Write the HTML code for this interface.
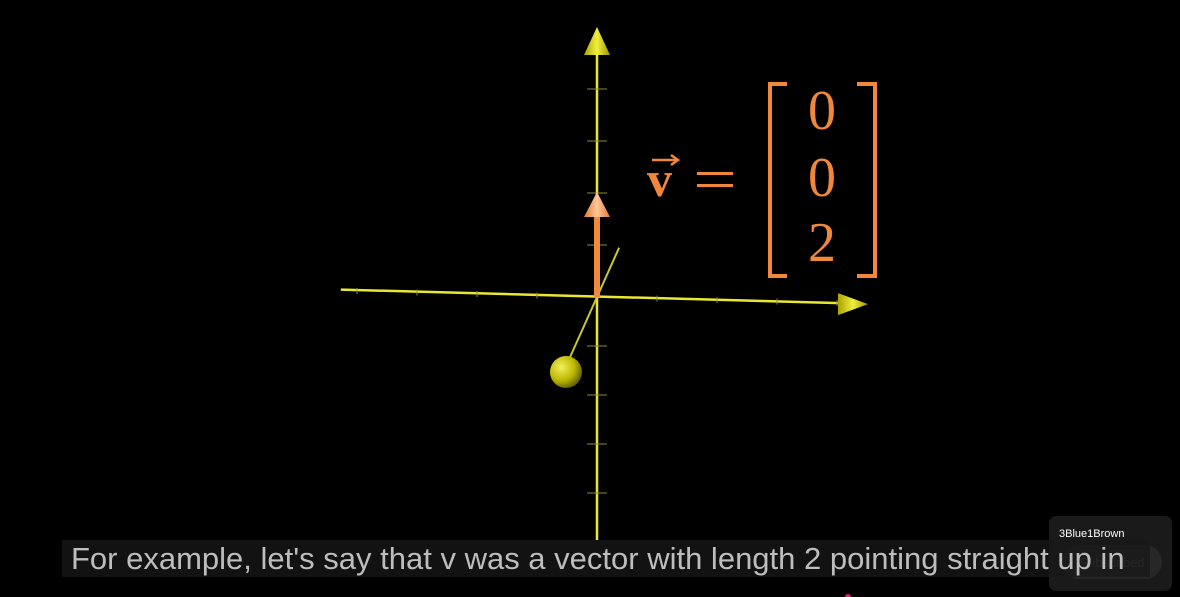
<!DOCTYPE html>
<html><head><meta charset="utf-8">
<style>
html,body{margin:0;padding:0;background:#000;width:1180px;height:597px;overflow:hidden;}
svg{display:block}
</style></head>
<body>
<svg id="scene" width="1180" height="597" viewBox="0 0 1180 597" xmlns="http://www.w3.org/2000/svg">
  <defs>
    <radialGradient id="sph" cx="0.35" cy="0.35" r="0.7">
      <stop offset="0" stop-color="#f2f060"/>
      <stop offset="0.6" stop-color="#bdb700"/>
      <stop offset="1" stop-color="#5f5c00"/>
    </radialGradient>
    <linearGradient id="cone" x1="0" x2="1">
      <stop offset="0" stop-color="#a9a400"/>
      <stop offset="0.5" stop-color="#f1ee40"/>
      <stop offset="1" stop-color="#9a9500"/>
    </linearGradient>
    <linearGradient id="ocone" x1="0" x2="1">
      <stop offset="0" stop-color="#e07a30"/>
      <stop offset="0.5" stop-color="#ffc79a"/>
      <stop offset="1" stop-color="#e07a30"/>
    </linearGradient>
  </defs>
  <g id="axes"></g>
  <g id="vec"></g>

  <g fill="#f0873a" font-family="'Liberation Serif', serif">
    <text x="647" y="196" font-size="50" font-weight="bold">v</text>
    <line x1="652" y1="160" x2="676" y2="160" stroke="#f0873a" stroke-width="2.5"/>
    <path d="M671 155 L678 160 L671 165" fill="none" stroke="#f0873a" stroke-width="2.5"/>
    <rect x="697" y="172" width="36" height="3"/>
    <rect x="697" y="184" width="36" height="3"/>
    <path d="M787 84 L770 84 L770 276 L787 276" fill="none" stroke="#f0873a" stroke-width="4"/>
    <path d="M857 84 L875 84 L875 276 L857 276" fill="none" stroke="#f0873a" stroke-width="4"/>
    <g id="entries" font-size="56" text-anchor="middle"></g>
  </g>

  <rect x="1049" y="516" width="123" height="75" rx="7" fill="#1f1f1f" opacity="0.85"/>
  <text x="1059" y="537" font-family="'Liberation Sans', sans-serif" font-size="11" fill="#ffffff">3Blue1Brown</text>
  <rect x="1062" y="545" width="100" height="34" rx="17" fill="#2e2e2e" opacity="0.7"/>
  <text x="1112" y="567" text-anchor="middle" font-family="'Liberation Sans', sans-serif" font-size="13" fill="#555">Subscribed</text>

  <rect x="62" y="540" width="1088" height="37" fill="#181818" opacity="0.75"/>
  <text x="71" y="569" font-family="'Liberation Sans', sans-serif" font-size="31" fill="#bdbdbd">For example, let's say that v was a vector with length 2 pointing straight up in</text>
  <circle cx="848" cy="597" r="3" fill="#e0207a"/>
</svg>
<script>
// Data
const vectorEntries = [0, 0, 2];
const zTickValues = [-4, -3, -2, -1, 1, 2, 3, 4];
const xTickValues = [-4, -3, -2, -1, 1, 2, 3, 4];

// Projection (screen mapping)
const origin = {x: 597, y: 297};
const xUnit = {x: 60, y: 1.5};
const yUnit = {x: 13, y: -29};
function zPos(v){ const u = v >= 0 ? 52 : 49; return {x: origin.x, y: origin.y - v * u}; }
function xPos(v){ return {x: origin.x + v * xUnit.x, y: origin.y + v * xUnit.y}; }
function yPos(v){ return {x: origin.x + v * yUnit.x, y: origin.y + v * yUnit.y}; }

const NS = 'http://www.w3.org/2000/svg';
function mk(tag, attrs, parent){
  const e = document.createElementNS(NS, tag);
  for (const k in attrs) e.setAttribute(k, attrs[k]);
  parent.appendChild(e); return e;
}
const axes = document.getElementById('axes');
const Y = '#e8e830';

// z axis
let e = mk('line', {x1: 597, y1: 50, x2: 597, y2: 540, stroke: Y, 'stroke-width': 2.5}, axes);


e = mk('polygon', {points: '597,27 584,55 610,55', fill: 'url(#cone)'}, axes);


zTickValues.forEach(v => {
  const p = zPos(v);
  const t = mk('line', {x1: p.x - 10, y1: p.y, x2: p.x + 10, y2: p.y, stroke: '#8a8a40', 'stroke-width': 1}, axes);
  
  
});

// x axis
const xs = xPos(-4.27), xe = xPos(4.05);
e = mk('line', {x1: xs.x, y1: xs.y - 1, x2: xe.x, y2: xe.y, stroke: Y, 'stroke-width': 2.5}, axes);


e = mk('polygon', {points: `${xe.x-2},${xe.y-10} ${xe.x+28},${xe.y+1} ${xe.x-2},${xe.y+12}`, fill: 'url(#cone)'}, axes);


xTickValues.forEach(v => {
  const p = xPos(v);
  const t = mk('line', {x1: p.x, y1: p.y - 3, x2: p.x, y2: p.y + 3, stroke: '#8a8a40', 'stroke-width': 1}, axes);
  
  
});

// y axis (depth)
const ys = yPos(1.7), ye = yPos(-2.4);
e = mk('line', {x1: ys.x, y1: ys.y, x2: ye.x, y2: ye.y, stroke: '#c8c830', 'stroke-width': 2}, axes);


e = mk('circle', {cx: 566, cy: 372, r: 16, fill: 'url(#sph)'}, axes);



// vector
const vg = document.getElementById('vec');
const tip = zPos(vectorEntries[2]);
e = mk('rect', {x: origin.x - 3, y: tip.y + 22, width: 6, height: origin.y - tip.y - 22, fill: '#f08a3c'}, vg);


e = mk('polygon', {points: `${tip.x},${tip.y - 1} ${tip.x - 13},${tip.y + 24} ${tip.x + 13},${tip.y + 24}`, fill: 'url(#ocone)'}, vg);



// matrix entries
const ent = document.getElementById('entries');
const rowY = [129, 196, 261];
vectorEntries.forEach((v, i) => {
  const t = mk('text', {x: 822, y: rowY[i]}, ent);
  t.textContent = v;
  
  
});
</script>
</body></html>
